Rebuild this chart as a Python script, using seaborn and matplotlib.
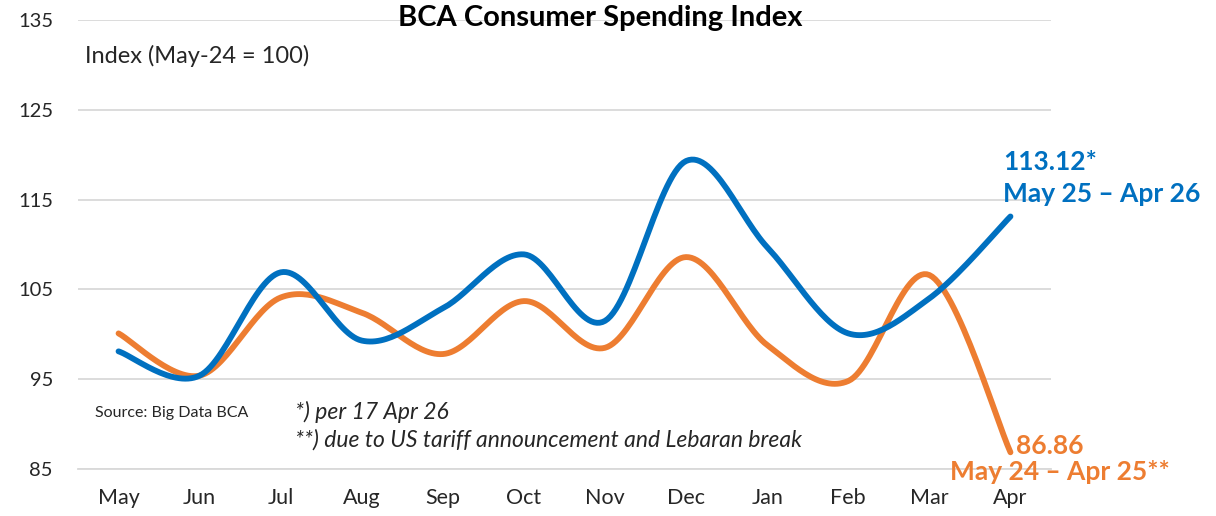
import numpy as np
import pandas as pd
import matplotlib
matplotlib.use("Agg")
import matplotlib.pyplot as plt
import seaborn as sns

months = ["May", "Jun", "Jul", "Aug", "Sep", "Oct", "Nov", "Dec", "Jan", "Feb", "Mar", "Apr"]
spend_2526 = [98.1, 95.4, 106.9, 99.3, 102.9, 108.9, 101.5, 119.3, 109.7, 100.1, 104.0, 113.12]
spend_2425 = [100.1, 95.4, 104.1, 102.4, 97.8, 103.7, 98.5, 108.6, 98.8, 94.8, 106.6, 86.86]
yticks = [85, 95, 105, 115, 125, 135]

BLUE = "#0070C0"
ORANGE = "#ED7D31"

sns.set_style("white")
plt.rcParams["font.family"] = ["Lato", "DejaVu Sans"]


def smooth(xs, ys, n=30):
    """Excel-style smoothed line (Catmull-Rom Bezier) through the data points."""
    xs = np.asarray(xs, float)
    ys = np.asarray(ys, float)
    px, py = [], []
    m = len(xs)
    for i in range(m - 1):
        x0, y0 = (xs[i - 1], ys[i - 1]) if i > 0 else (xs[i], ys[i])
        x1, y1 = xs[i], ys[i]
        x2, y2 = xs[i + 1], ys[i + 1]
        x3, y3 = (xs[i + 2], ys[i + 2]) if i + 2 < m else (x2, y2)
        c1x, c1y = x1 + (x2 - x0) / 6, y1 + (y2 - y0) / 6
        c2x, c2y = x2 - (x3 - x1) / 6, y2 - (y3 - y1) / 6
        t = np.linspace(0, 1, n, endpoint=(i == m - 2))
        b0 = (1 - t) ** 3
        b1 = 3 * (1 - t) ** 2 * t
        b2 = 3 * (1 - t) * t ** 2
        b3 = t ** 3
        px.extend(b0 * x1 + b1 * c1x + b2 * c2x + b3 * x2)
        py.extend(b0 * y1 + b1 * c1y + b2 * c2y + b3 * y2)
    return np.array(px), np.array(py)


fig = plt.figure(figsize=(12.16, 5.16), dpi=100)
ax = fig.add_axes([78 / 1216, 1 - 469 / 516, (1051 - 78) / 1216, (469 - 20) / 516])

xpos = np.arange(len(months))
frames = []
for name, vals in [("2425", spend_2425), ("2526", spend_2526)]:
    sx, sy = smooth(xpos, vals)
    frames.append(pd.DataFrame({"x": sx, "y": sy, "series": name}))
df = pd.concat(frames, ignore_index=True)

sns.lineplot(data=df, x="x", y="y", hue="series", palette={"2425": ORANGE, "2526": BLUE},
             sort=False, estimator=None, units="series", linewidth=4.2, legend=False, ax=ax,
             solid_capstyle="round")

ax.set_xlim(-0.5, len(months) - 0.5)
ax.set_ylim(85, 135)
ax.set_yticks(yticks)
ax.set_yticklabels([str(v) for v in yticks], fontsize=14.5)
ax.set_xticks(xpos)
ax.set_xticklabels(months, fontsize=15.5)
ax.set_xticks(np.arange(-0.5, len(months)), minor=True)
ax.tick_params(axis="x", which="major", length=0, pad=14)
ax.tick_params(axis="x", which="minor", length=6, color="#D9D9D9", width=1.2)
ax.tick_params(axis="y", length=0, pad=18)
ax.set_xlabel("")
ax.set_ylabel("")
ax.grid(axis="y", color="#D9D9D9", linewidth=1.3)
ax.set_axisbelow(True)
for s in ["left", "right", "top"]:
    ax.spines[s].set_visible(False)
ax.spines["bottom"].set_color("#D9D9D9")
ax.spines["bottom"].set_linewidth(1.3)

fig.text(600 / 1216, 1 - 18 / 516, "BCA Consumer Spending Index", ha="center", va="center",
         fontsize=21, fontweight="bold", color="black")
fig.text(85 / 1216, 1 - 56 / 516, "Index (May-24 = 100)", ha="left", va="center", fontsize=17)
fig.text(95 / 1216, 1 - 413 / 516, "Source: Big Data BCA", ha="left", va="center", fontsize=11.5)
fig.text(295 / 1216, 1 - 412 / 516, "*) per 17 Apr 26", ha="left", va="center", fontsize=16.5, style="italic")
fig.text(295 / 1216, 1 - 440 / 516, "**) due to US tariff announcement and Lebaran break", ha="left",
         va="center", fontsize=16.5, style="italic")

fig.text(1003 / 1216, 1 - 162 / 516, f"{spend_2526[-1]:.2f}*", ha="left", va="center",
         fontsize=19, fontweight="bold", color=BLUE)
fig.text(1003 / 1216, 1 - 194 / 516, "May 25 – Apr 26", ha="left", va="center",
         fontsize=19, fontweight="bold", color=BLUE)
fig.text(1016 / 1216, 1 - 446 / 516, f"{spend_2425[-1]:.2f}", ha="left", va="center",
         fontsize=19, fontweight="bold", color=ORANGE)
fig.text(950 / 1216, 1 - 472 / 516, "May 24 – Apr 25**", ha="left", va="center",
         fontsize=19, fontweight="bold", color=ORANGE)

fig.savefig("out.png", dpi=100)
